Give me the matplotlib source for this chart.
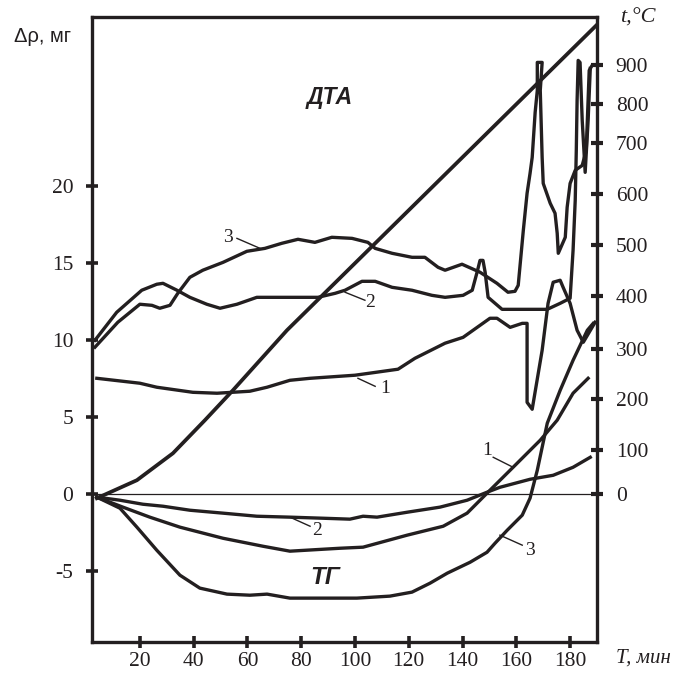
import numpy as np
import matplotlib
matplotlib.use("Agg")
import matplotlib.pyplot as plt

## data (x in min, y in mg; temperature drawn in left-axis units)
temp_x = [4.0, 18.9, 32.3, 44.2, 54.6, 74.7, 190.0]
temp_y = [-0.26, 0.91, 2.66, 4.81, 6.75, 10.65, 30.5]

dta1_x = [4.0, 20.0, 26.3, 39.7, 48.7, 60.9, 67.3, 75.8, 83.3, 100.0, 116.0, 122.3,
          133.5, 140.2, 150.2, 152.8, 157.7, 162.2, 164.0, 164.0, 165.9, 169.6,
          171.8, 173.7, 176.3, 177.4, 180.0, 182.6, 184.9, 189.3]
dta1_y = [7.53, 7.21, 6.95, 6.62, 6.56, 6.69, 6.95, 7.40, 7.53, 7.73, 8.12, 8.83,
          9.81, 10.19, 11.43, 11.43, 10.84, 11.10, 11.10, 5.97, 5.52, 9.35,
          12.40, 13.77, 13.90, 13.44, 12.40, 10.65, 9.87, 11.17]

dta2_x = [3.3, 11.4, 20.7, 26.3, 28.6, 33.8, 38.6, 44.9, 49.8, 56.1, 63.5, 86.2,
          92.6, 96.3, 102.6, 107.5, 113.8, 121.2, 128.6, 133.5, 140.2, 143.6,
          145.4, 146.5, 147.6, 148.4, 149.5, 154.7, 171.5, 176.3, 180.0, 181.1,
          181.9, 182.3, 182.6, 183.0, 183.7, 184.5, 185.6, 186.7, 187.5]
dta2_y = [10.0, 11.82, 13.25, 13.64, 13.70, 13.25, 12.79, 12.34, 12.08, 12.34, 12.79, 12.79,
          13.05, 13.25, 13.83, 13.83, 13.44, 13.25, 12.92, 12.79, 12.92, 13.25,
          14.42, 15.19, 15.19, 14.42, 12.79, 12.01, 12.01, 12.40, 12.73, 15.84,
          19.09, 22.34, 25.58, 28.18, 28.05, 24.29, 20.91, 24.29, 27.66]

dta3_x = [3.3, 11.8, 20.0, 24.5, 27.4, 31.2, 34.1, 38.6, 43.4, 50.9, 59.8, 66.5,
          72.8, 78.8, 85.1, 91.4, 98.9, 104.8, 107.5, 113.8, 121.2, 126.0, 130.9,
          133.5, 139.8, 146.5, 152.8, 156.9, 159.5, 160.7, 162.6, 164.0, 165.1,
          165.9, 167.0, 167.8, 167.8, 169.6, 168.9, 169.6, 170.0, 172.6, 174.4,
          175.2, 175.6, 178.2, 178.9, 180.0, 181.9, 184.5, 186.0, 187.1, 188.2, 189.7]
dta3_y = [9.55, 11.17, 12.34, 12.27, 12.08, 12.27, 13.05, 14.09, 14.55, 15.06, 15.78, 15.97,
          16.30, 16.56, 16.36, 16.69, 16.62, 16.36, 15.97, 15.65, 15.39, 15.39, 14.74,
          14.55, 14.94, 14.42, 13.70, 13.12, 13.18, 13.57, 17.14, 19.55, 20.84,
          21.88, 24.81, 26.23, 28.05, 28.05, 26.23, 21.88, 20.19, 18.90, 18.25,
          16.95, 15.65, 16.69, 18.64, 20.19, 21.04, 21.36, 22.34, 27.53, 27.86, 27.86]

tg1_x = [4.0, 13.7, 23.7, 34.9, 50.9, 65.8, 75.8, 94.4, 103.0, 119.4, 132.8, 141.7,
         146.5, 150.2, 158.8, 168.9, 175.2, 181.1, 186.7]
tg1_y = [-0.19, -0.84, -1.49, -2.14, -2.86, -3.38, -3.70, -3.51, -3.44, -2.66, -2.08, -1.23,
         -0.39, 0.26, 1.75, 3.51, 4.81, 6.56, 7.53]

tg2_x = [4.0, 12.6, 21.1, 28.6, 38.6, 50.9, 63.5, 75.8, 88.1, 98.1, 103.0, 108.2,
         119.4, 131.6, 141.7, 149.1, 153.9, 165.1, 173.7, 181.1, 187.5]
tg2_y = [-0.19, -0.39, -0.65, -0.78, -1.04, -1.23, -1.43, -1.49, -1.56, -1.62, -1.43, -1.49,
         -1.17, -0.84, -0.39, 0.13, 0.45, 0.97, 1.23, 1.75, 2.40]

tg3_x = [4.0, 12.6, 18.9, 26.3, 34.9, 42.3, 52.4, 60.9, 67.3, 75.8, 100.7, 113.0,
         121.2, 127.9, 134.3, 142.8, 149.1, 152.1, 156.6, 162.2, 165.1, 167.8,
         171.5, 176.3, 181.1, 186.4, 188.6]
tg3_y = [-0.19, -0.91, -2.14, -3.64, -5.26, -6.10, -6.49, -6.56, -6.49, -6.75, -6.75, -6.62,
         -6.36, -5.78, -5.13, -4.42, -3.77, -3.18, -2.34, -1.36, -0.26, 1.56,
         4.61, 6.75, 8.70, 10.65, 11.10]

x_ticks = [20, 40, 60, 80, 100, 120, 140, 160, 180]
y_ticks = [-5, 0, 5, 10, 15, 20]
# right axis: temperature labels and where they sit on the left scale
t_labels = [0, 100, 200, 300, 400, 500, 600, 700, 800, 900]
t_pos = [0, 2.86, 6.17, 9.42, 12.86, 16.17, 19.48, 22.79, 25.32, 27.86]

##############################
## Plotting ##################
##############################
ink = '#231f20'
serif = 'Liberation Serif'
sans = 'Liberation Sans'

fig = plt.figure(figsize=(6.76, 6.73), dpi=100)
ax = fig.add_axes([92/676, 1-642/673, (597-92)/676, (642-17)/673])

ax.axhline(0, color=ink, lw=0.9)
lw = 2.4
ax.plot(temp_x, temp_y, color=ink, lw=2.7)
for xs, ys in [(dta1_x, dta1_y), (dta2_x, dta2_y), (dta3_x, dta3_y),
               (tg1_x, tg1_y), (tg2_x, tg2_y), (tg3_x, tg3_y)]:
    ax.plot(xs, ys, color=ink, lw=lw, solid_joinstyle='round')

ax.set_xlim(2.2, 190)
ax.set_ylim(-9.6, 31.0)
ax.set_xticks(x_ticks)
ax.set_yticks(y_ticks)
ax.set_yticklabels([str(v) for v in y_ticks], family=serif, fontsize=15.5)
ax.set_xticklabels([str(v) for v in x_ticks], family=serif, fontsize=15.5)
ax.tick_params(axis='both', direction='inout', length=9, width=2.6, color=ink, labelcolor=ink)
ax.tick_params(axis='y', pad=9)
ax.tick_params(axis='x', pad=3)
for s in ax.spines.values():
    s.set_linewidth(2.4)
    s.set_color(ink)

ax2 = ax.twinx()
ax2.set_ylim(ax.get_ylim())
ax2.set_yticks(t_pos)
ax2.set_yticklabels([str(v) for v in t_labels], family=serif, fontsize=15.5)
ax2.tick_params(axis='y', direction='inout', length=9, width=3.0, color=ink, labelcolor=ink, pad=9)
for s in ax2.spines.values():
    s.set_visible(False)

# curve labels
ax.text(90.7, 25.8, 'ДТА', family=sans, weight='bold', style='italic', fontsize=16.5,
        ha='center', va='center', color=ink)
ax.text(88.9, -5.39, 'ТГ', family=sans, weight='bold', style='italic', fontsize=17.5,
        ha='center', va='center', color=ink)

marks = [('1', (111.2, 6.88), (101.1, 7.53), (107.5, 7.01)),
         ('2', (105.6, 12.47), (96.3, 13.12), (103.7, 12.60)),
         ('3', (52.7, 16.69), (56.1, 16.62), (64.7, 15.97)),
         ('2', (85.9, -2.34), (75.8, -1.49), (83.3, -2.08)),
         ('1', (149.1, 2.86), (151.4, 2.40), (158.8, 1.75)),
         ('3', (165.1, -3.64), (153.9, -2.66), (162.2, -3.31))]
for txt, tp, p0, p1 in marks:
    ax.text(tp[0], tp[1], txt, family=serif, fontsize=14, ha='center', va='center', color=ink)
    ax.plot([p0[0], p1[0]], [p0[1], p1[1]], color=ink, lw=1.0)

fig.text(42/676, 1-37/673, 'Δρ, мг', family=sans, fontsize=14.5, ha='center', va='center', color=ink)
fig.text(638/676, 1-18/673, 't,°C', family=serif, style='italic', fontsize=16,
         ha='center', va='center', color=ink)
fig.text(643/676, 1-658/673, 'T, мин', family=serif, style='italic', fontsize=15,
         ha='center', va='center', color=ink)

fig.savefig('out.png', dpi=100)
